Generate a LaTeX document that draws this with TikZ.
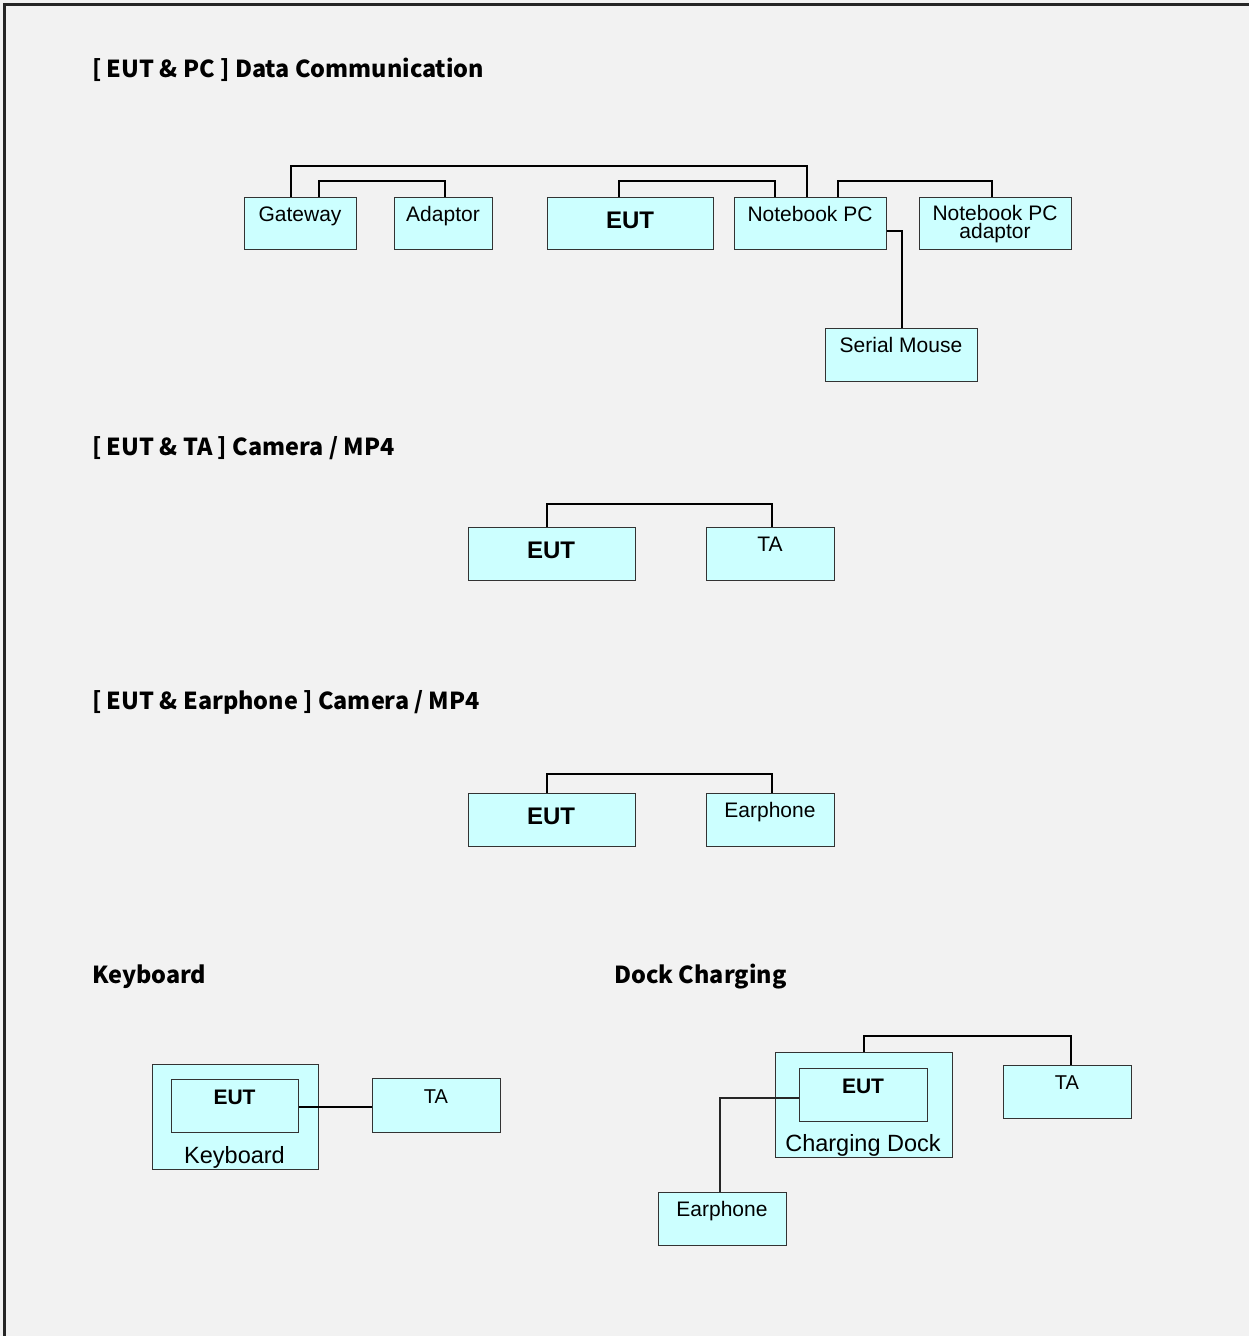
\documentclass[tikz,border=0pt]{standalone}
\usepackage{fontspec}
\setmainfont{Liberation Sans}
\newfontfamily\hfont{Noto Sans CJK SC}
\usetikzlibrary{calc}
\definecolor{boxcyan}{HTML}{CCFFFF}
\definecolor{bgcol}{HTML}{F2F2F2}
\definecolor{edgecol}{HTML}{333333}
\begin{document}
\begin{tikzpicture}[x=1pt,y=-1pt,
  box/.style={draw=edgecol, line width=1.3pt, fill=boxcyan, rectangle, inner sep=0pt, anchor=north west},
  wire/.style={draw=black, line width=2pt},
  thinwire/.style={draw=black!85, line width=1.4pt},
  lbl/.style={anchor=base, inner sep=0pt, font=\fontsize{21}{21}\selectfont},
  lblb/.style={anchor=base, inner sep=0pt, font=\fontsize{23.5}{23.5}\selectfont},
  lbls/.style={anchor=base, inner sep=0pt, font=\fontsize{20}{20}\selectfont},
  bl/.style={anchor=base, inner sep=0pt, font=\fontsize{24}{24}\selectfont\bfseries},
  bls/.style={anchor=base, inner sep=0pt, font=\fontsize{21}{21}\selectfont\bfseries},
  ttl/.style={anchor=base west, inner sep=0pt, font=\hfont\bfseries\fontsize{23.4}{28}\selectfont}]
\useasboundingbox (0,0) rectangle (1249,1336);
\clip (0,0) rectangle (1249,1336);
\fill[bgcol] (0,0) rectangle (1249,1336);
\draw[line width=2.5pt, black!85] (4.5,4.5) rectangle (1300,1400);

% titles
\node[ttl] (t1) at (92,77) {[ EUT \& PC ] Data Communication};
\node[ttl] (t2) at (92,455) {[ EUT \& TA ] Camera / MP4};
\node[ttl] (t3) at (92,709) {[ EUT \& Earphone ] Camera / MP4};
\node[ttl] (t4) at (92,983) {Keyboard};
\node[ttl] (t5) at (614,983) {Dock Charging};

% section 1
\node[box, minimum width=112, minimum height=52] (gw) at (244,197) {};
\node[box, minimum width=98, minimum height=52] (ad) at (394,197) {};
\node[box, minimum width=166, minimum height=52] (eut1) at (547,197) {};
\node[box, minimum width=152, minimum height=52] (nb) at (734,197) {};
\node[box, minimum width=152, minimum height=52] (nba) at (919,197) {};
\node[box, minimum width=152, minimum height=53] (sm) at (825,328) {};

\node[lbl] (gwt) at (300,221) {Gateway};
\node[lbl] (adt) at (443,221) {Adaptor};
\node[bl] (eut1t) at (630,228) {EUT};
\node[lbl] (nbt) at (810,221) {Notebook PC};
\node[lbl, anchor=center, align=center, font=\fontsize{21}{18}\selectfont] (nbat) at (995,224) {Notebook PC\\adaptor};
\node[lbl] (smt) at (901,352) {Serial Mouse};

\draw[wire] ([xshift=47pt]gw.north west) -- ++(0,-31) -| ([xshift=73pt]nb.north west);
\draw[wire] ([xshift=75pt]gw.north west) -- ++(0,-16) -| ([xshift=51pt]ad.north west);
\draw[wire] ([xshift=72pt]eut1.north west) -- ++(0,-16) -| ([xshift=41pt]nb.north west);
\draw[wire] ([xshift=104pt]nb.north west) -- ++(0,-16) -| ([xshift=73pt]nba.north west);
\draw[wire] ([yshift=-34pt]nb.north east) -| (sm.north);

% section 2
\node[box, minimum width=167, minimum height=53] (eut2) at (468,527) {};
\node[box, minimum width=128, minimum height=53] (ta2) at (706,527) {};
\node[bl] (eut2t) at (551,558) {EUT};
\node[lbl] (ta2t) at (770,551) {TA};
\draw[wire] ([xshift=79pt]eut2.north west) -- ++(0,-23) -| ([xshift=66pt]ta2.north west);

% section 3
\node[box, minimum width=167, minimum height=53] (eut3) at (468,793) {};
\node[box, minimum width=128, minimum height=53] (ep3) at (706,793) {};
\node[bl] (eut3t) at (551,824) {EUT};
\node[lbl] (ep3t) at (770,817) {Earphone};
\draw[wire] ([xshift=79pt]eut3.north west) -- ++(0,-19) -| ([xshift=66pt]ep3.north west);

% keyboard
\node[box, minimum width=166, minimum height=105] (kb) at (152,1064) {};
\node[box, minimum width=127, minimum height=53] (kbeut) at (171,1079) {};
\node[box, minimum width=128, minimum height=54] (kbta) at (372,1078) {};
\node[lblb] (kbt) at (234.5,1163) {Keyboard};
\node[bls] (kbeutt) at (234.5,1104) {EUT};
\node[lbls] (kbtat) at (436,1103) {TA};
\draw[wire] ([yshift=-28pt]kbeut.north east) -- ([yshift=-28pt]kbeut.north east -| kbta.west);

% dock
\node[box, minimum width=177, minimum height=105] (dock) at (775,1052) {};
\node[box, minimum width=128, minimum height=53] (dockeut) at (799,1068) {};
\node[box, minimum width=128, minimum height=53] (dockta) at (1003,1065) {};
\node[box, minimum width=128, minimum height=53] (dockep) at (658,1192) {};
\node[lblb] (dockt) at (863,1151) {Charging Dock};
\node[bls] (docketut) at (863,1093) {EUT};
\node[lbls] (docktat) at (1067,1089) {TA};
\node[lbl] (dockept) at (722,1216) {Earphone};
\draw[wire] ([xshift=89pt]dock.north west) -- ++(0,-16) -| ([xshift=68pt]dockta.north west);
\draw[thinwire] ([yshift=-30pt]dockeut.north west) -| ([xshift=62pt]dockep.north west);
\end{tikzpicture}
\end{document}
